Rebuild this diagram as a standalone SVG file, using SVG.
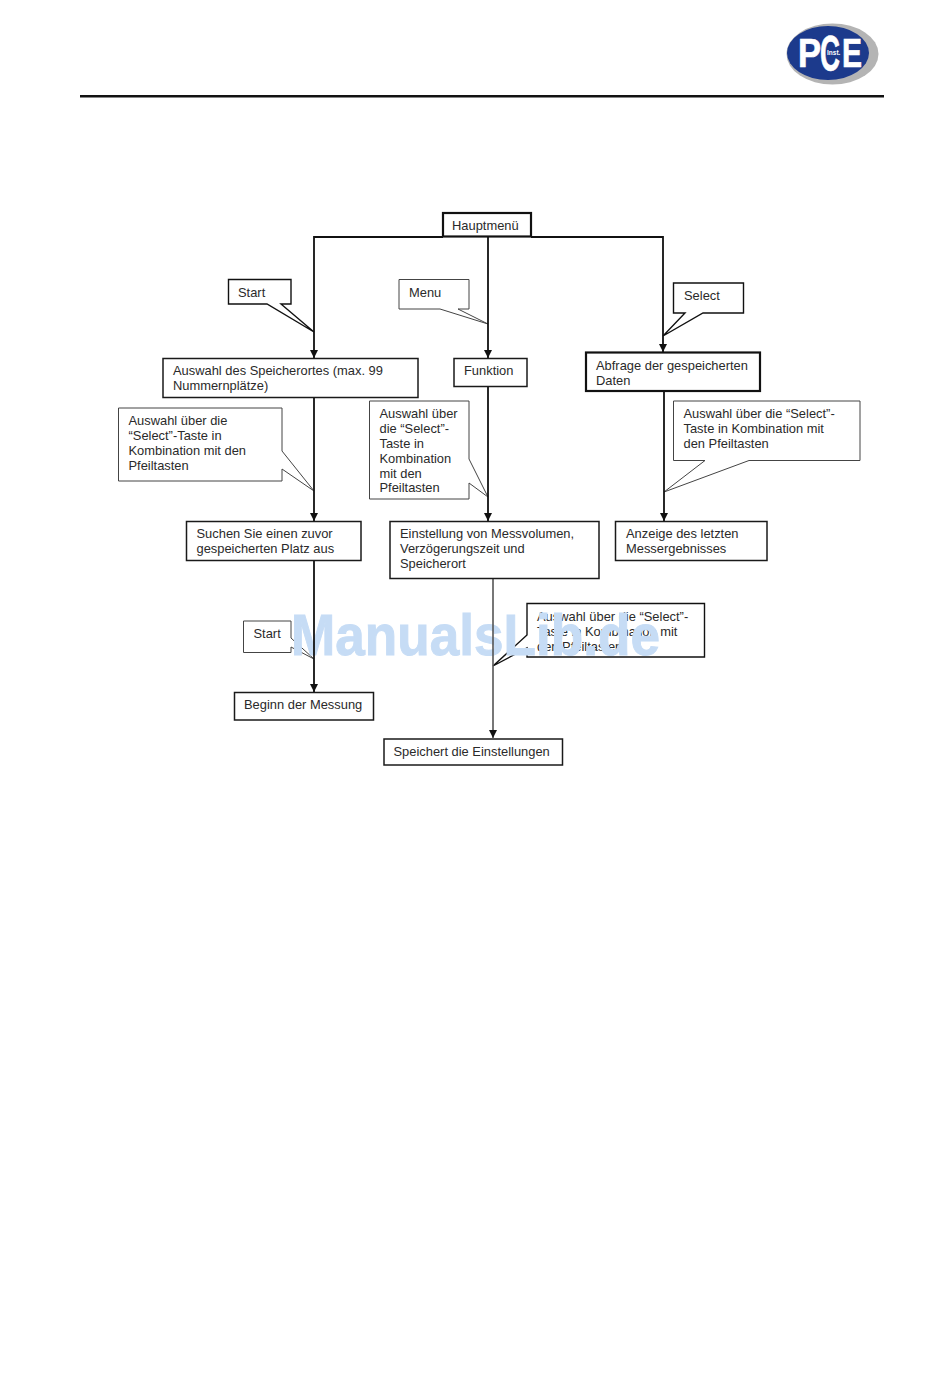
<svg xmlns="http://www.w3.org/2000/svg" width="950" height="1378" viewBox="0 0 950 1378">
<style>
text{font-family:"Liberation Sans",Arial,sans-serif;font-size:12.9px;fill:#2a2a2a}
.b{fill:#fff;stroke:#1a1a1a;stroke-width:1.5}
.b2{fill:#fff;stroke:#111;stroke-width:2.2}
.c{fill:#fff;stroke:#444;stroke-width:1}
.c2{fill:#fff;stroke:#111;stroke-width:1.4}
.l{fill:none;stroke:#111;stroke-width:1.8}
.g{fill:none;stroke:#555;stroke-width:1.6}
text.w{font-weight:bold;font-size:57px;fill:#c6dcf5;stroke:#c6dcf5;stroke-width:1}
text.lg{font-weight:bold;fill:#fff;stroke:#fff;stroke-width:.7}
</style>
<defs>
<marker id="a" markerUnits="userSpaceOnUse" markerWidth="10" markerHeight="9" refX="8" refY="4" orient="auto"><path d="M0 0L8 4L0 8Z" fill="#111"/></marker>
</defs>
<rect width="950" height="1378" fill="#fff"/>
<g id="header">
<ellipse cx="832.500" cy="54" rx="46" ry="30.500" fill="#b4b4b4"/>
<ellipse cx="828" cy="53" rx="41" ry="27" fill="#1c3a8c"/>
<text class="lg" x="798" y="67" textLength="23" lengthAdjust="spacingAndGlyphs" style="font-size:40px">P</text>
<text class="lg" x="820" y="71" textLength="20" lengthAdjust="spacingAndGlyphs" style="font-size:50px">C</text>
<text class="lg" x="842" y="67" textLength="20" lengthAdjust="spacingAndGlyphs" style="font-size:40px">E</text>
<text x="827" y="55" style="font-size:6.500px;font-weight:bold;fill:#fff">Inst.</text>
<rect x="80" y="95" width="804" height="2.500" fill="#111"/>
</g>
<g id="callouts">
<g id="callout-start-1"><path class="c2" d="M228.500 279.500H291V304H281L314 332L267 304H228.500Z"/><text x="238" y="296.500">Start</text></g>
<g id="callout-menu"><path class="c" d="M399 279.500H469V309H458L488 324L440 309H399Z"/><text x="409" y="296.500">Menu</text></g>
<g id="callout-select"><path class="c2" d="M673.500 283H743.500V313H703L663 336L685 313H673.500Z"/><text x="684" y="299.500">Select</text></g>
<g id="callout-auswahl-1"><path class="c" d="M118.500 408H282V451L314 491L282 469V481H118.500Z"/><text x="128.500" y="425">Auswahl über die</text><text x="128.500" y="440">“Select”-Taste in</text><text x="128.500" y="455">Kombination mit den</text><text x="128.500" y="470">Pfeiltasten</text></g>
<g id="callout-auswahl-2"><path class="c" d="M369.500 401H469V459L488 497L469 483V499H369.500Z"/><text x="379.500" y="418">Auswahl über</text><text x="379.500" y="433">die “Select”-</text><text x="379.500" y="447.500">Taste in</text><text x="379.500" y="462.500">Kombination</text><text x="379.500" y="477.500">mit den</text><text x="379.500" y="492">Pfeiltasten</text></g>
<g id="callout-auswahl-3"><path class="c" d="M673.500 401H860V460.500H749L664 492L705 460.500H673.500Z"/><text x="683.500" y="418">Auswahl über die “Select”-</text><text x="683.500" y="433">Taste in Kombination mit</text><text x="683.500" y="448">den Pfeiltasten</text></g>
<g id="callout-start-2"><path class="c" d="M243.500 621H291V638L314 659L291 647V652.500H243.500Z"/><text x="253.500" y="638">Start</text></g>
<g id="callout-auswahl-4"><path class="c2" d="M527 603.500H704.500V657H527V648L493 666L527 635Z"/><text x="537" y="621">Auswahl über die “Select”-</text><text x="537" y="636">Taste in Kombination mit</text><text x="537" y="650.500">den Pfeiltasten</text></g>
</g>
<text id="watermark" class="w" x="291" y="655" textLength="369" lengthAdjust="spacingAndGlyphs">ManualsLib.de</text>
<g id="connectors">
<path class="l" d="M443 237H314V358" marker-end="url(#a)"/>
<path class="l" d="M531 237H663V352" marker-end="url(#a)"/>
<path class="l" d="M488 237V358" marker-end="url(#a)"/>
<path class="l" d="M314 397V521" marker-end="url(#a)"/>
<path class="l" d="M488 386V521" marker-end="url(#a)"/>
<path class="l" d="M664 391V521" marker-end="url(#a)"/>
<path class="l" d="M314 561V692" marker-end="url(#a)"/>
<path class="g" d="M493 579V738" marker-end="url(#a)"/>
</g>
<g id="nodes">
<g id="hauptmenu"><rect class="b2" x="443" y="213" width="88" height="23.500"/><text x="452" y="229.500">Hauptmenü</text></g>
<g id="speicherort"><rect class="b" x="163" y="358.500" width="255" height="39"/><text x="173" y="375">Auswahl des Speicherortes (max. 99</text><text x="173" y="390">Nummernplätze)</text></g>
<g id="funktion"><rect class="b" x="454" y="358.500" width="73" height="28"/><text x="464" y="375">Funktion</text></g>
<g id="abfrage"><rect class="b2" x="586" y="352.500" width="174" height="38.500"/><text x="596" y="369.500">Abfrage der gespeicherten</text><text x="596" y="384.500">Daten</text></g>
<g id="suchen"><rect class="b" x="186.500" y="521.500" width="174.500" height="39"/><text x="196.500" y="538">Suchen Sie einen zuvor</text><text x="196.500" y="553">gespeicherten Platz aus</text></g>
<g id="einstellung"><rect class="b" x="390" y="521.500" width="209" height="57"/><text x="400" y="538">Einstellung von Messvolumen,</text><text x="400" y="553">Verzögerungszeit und</text><text x="400" y="568">Speicherort</text></g>
<g id="anzeige"><rect class="b" x="615.500" y="521.500" width="151.500" height="39"/><text x="626" y="538">Anzeige des letzten</text><text x="626" y="553">Messergebnisses</text></g>
<g id="beginn"><rect class="b" x="234.500" y="692.500" width="139" height="27.500"/><text x="244" y="709">Beginn der Messung</text></g>
<g id="speichert"><rect class="b" x="384" y="739" width="178.500" height="26"/><text x="393.500" y="756">Speichert die Einstellungen</text></g>
</g>
</svg>
